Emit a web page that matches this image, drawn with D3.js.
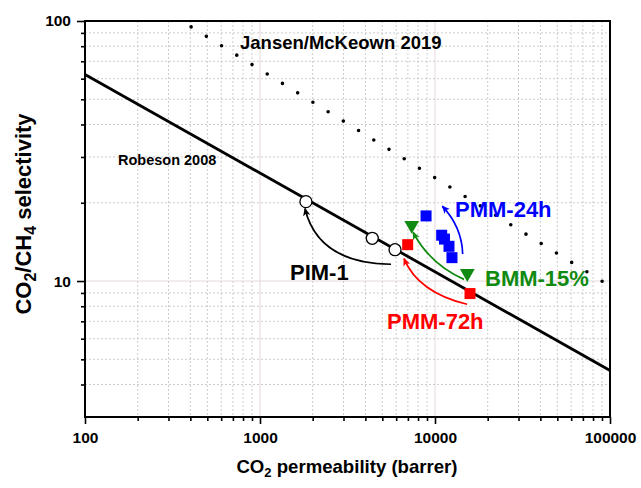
<!DOCTYPE html>
<html>
<head>
<meta charset="utf-8">
<script src="https://cdn.jsdelivr.net/npm/d3@7"></script>
<style>
  html, body { margin: 0; padding: 0; background: #fff; }
  text { font-family: "Liberation Sans", Arial, sans-serif; font-weight: bold; }
</style>
</head>
<body>
<svg id="chart" width="641" height="488"></svg>
<script>
// CO2 permeability (barrer) vs CO2/CH4 selectivity
const pim1 = [[1830, 20.2], [4380, 14.6], [5910, 13.2]];
const pmm72h = [[6980, 13.8], [15850, 8.95]];
const bmm15 = [[7360, 16.4], [15300, 10.7]];
const pmm24h = [[8890, 17.8], [10920, 15.0], [11330, 14.5], [12020, 13.6], [12500, 12.3]];

// upper bounds (endpoints)
const robeson2008 = [[100, 62.3], [100000, 4.53]];
const jansen2019 = [[404, 94.9], [91300, 9.93]];

// curved arrows: start, control, end
const arrowPim = [[5606, 11.6], [2144, 11.7], [1807, 19.0]];
const arrow72h = [[15240, 8.14], [7995, 9.05], [6650, 12.2]];
const arrow15 = [[14650, 10.15], [9360, 11.6], [7490, 15.4]];
const arrow24h = [[14390, 12.7], [14260, 16.1], [11010, 19.4]];

const xTicks = [100, 1000, 10000, 100000];
const yTicks = [10, 100];

const svg = d3.select("#chart");
const mLeft = 85, mRight = 610, mTop = 21, mBottom = 417;

const x = d3.scaleLog().domain([100, 100000]).range([mLeft, mRight]);
const y = d3.scaleLog().domain([3, 100]).range([mBottom, mTop]);

const blue = "#0000ff", red = "#ff0000", green = "#108a10";

// minor positions
const xMinor = [];
[100, 1000, 10000].forEach(d => { for (let k = 2; k <= 9; k++) xMinor.push(d * k); });
const yMinor = [];
[1, 10].forEach(d => { for (let k = 2; k <= 9; k++) { const v = d * k; if (v > 3 && v < 100) yMinor.push(v); } });

// gridlines
const grid = svg.append("g");
grid.selectAll(".gx").data(xMinor).join("line")
  .attr("x1", d => x(d)).attr("x2", d => x(d)).attr("y1", mTop).attr("y2", mBottom)
  .attr("stroke", "#cccccc").attr("stroke-width", 1).attr("stroke-dasharray", "2,2");
grid.selectAll(".gxm").data([1000, 10000]).join("line")
  .attr("x1", d => x(d)).attr("x2", d => x(d)).attr("y1", mTop).attr("y2", mBottom)
  .attr("stroke", "#e4d8d8").attr("stroke-width", 1);
grid.selectAll(".gy").data(yMinor).join("line")
  .attr("x1", mLeft).attr("x2", mRight).attr("y1", d => y(d)).attr("y2", d => y(d))
  .attr("stroke", "#cccccc").attr("stroke-width", 1).attr("stroke-dasharray", "2,2");
grid.selectAll(".gym").data([10]).join("line")
  .attr("x1", mLeft).attr("x2", mRight).attr("y1", d => y(d)).attr("y2", d => y(d))
  .attr("stroke", "#e4d8d8").attr("stroke-width", 1);

// axes
const xAxis = svg.append("g").attr("transform", `translate(0,${mBottom})`);
xAxis.call(d3.axisBottom(x).tickValues(xTicks).tickFormat(d3.format("d")).tickSize(7).tickPadding(8));
const xAxisMinor = svg.append("g").attr("transform", `translate(0,${mBottom})`);
xAxisMinor.call(d3.axisBottom(x).tickValues(xMinor).tickFormat("").tickSize(4));

const yAxis = svg.append("g").attr("transform", `translate(${mLeft},0)`);
yAxis.call(d3.axisLeft(y).tickValues(yTicks).tickFormat(d3.format("d")).tickSize(8).tickPadding(6));
const yAxisMinor = svg.append("g").attr("transform", `translate(${mLeft},0)`);
yAxisMinor.call(d3.axisLeft(y).tickValues(yMinor).tickFormat("").tickSize(4));

[xAxis, xAxisMinor, yAxis, yAxisMinor].forEach(g => {
  g.select(".domain").remove();
  g.selectAll(".tick line").attr("stroke", "#000").attr("stroke-width", 1.6);
  g.selectAll("text").attr("fill", "#000").style("font-size", "15.5px")
    .style("font-family", '"Liberation Sans", Arial, sans-serif').style("font-weight", "bold");
});

// frame
svg.append("rect").attr("x", mLeft).attr("y", mTop).attr("width", mRight - mLeft).attr("height", mBottom - mTop)
  .attr("fill", "none").attr("stroke", "#000").attr("stroke-width", 2);

const line = d3.line().x(d => x(d[0])).y(d => y(d[1]));

// Robeson 2008 upper bound
svg.append("path").datum(robeson2008).attr("d", line)
  .attr("fill", "none").attr("stroke", "#000").attr("stroke-width", 2.8);

// Jansen/McKeown 2019 upper bound (dotted)
svg.append("path").datum(jansen2019).attr("d", line)
  .attr("fill", "none").attr("stroke", "#000").attr("stroke-width", 3.6)
  .attr("stroke-linecap", "round").attr("stroke-dasharray", "0,17.9");

// arrow markers
const defs = svg.append("defs");
function marker(id, color) {
  defs.append("marker").attr("id", id).attr("viewBox", "0 0 10 10")
    .attr("refX", 9).attr("refY", 5).attr("markerWidth", 8).attr("markerHeight", 8)
    .attr("markerUnits", "userSpaceOnUse").attr("orient", "auto")
    .append("path").attr("d", "M0,0.5 L10,5 L0,9.5 L2.5,5 Z").attr("fill", color);
}
marker("mk-black", "#000"); marker("mk-red", red); marker("mk-green", green); marker("mk-blue", blue);

function curve(pts, color, id) {
  const p = pts.map(d => [x(d[0]), y(d[1])]);
  svg.append("path")
    .attr("d", `M${p[0][0]},${p[0][1]} Q${p[1][0]},${p[1][1]} ${p[2][0]},${p[2][1]}`)
    .attr("fill", "none").attr("stroke", color).attr("stroke-width", 1.7)
    .attr("marker-end", `url(#${id})`);
}
curve(arrowPim, "#000", "mk-black");
curve(arrow72h, red, "mk-red");
curve(arrow15, green, "mk-green");
curve(arrow24h, blue, "mk-blue");

// markers
svg.append("g").selectAll("circle").data(pim1).join("circle")
  .attr("cx", d => x(d[0])).attr("cy", d => y(d[1])).attr("r", 6)
  .attr("fill", "#fff").attr("stroke", "#000").attr("stroke-width", 1.3);

function squares(data, color) {
  svg.append("g").selectAll("rect").data(data).join("rect")
    .attr("x", d => x(d[0]) - 5.5).attr("y", d => y(d[1]) - 5.5)
    .attr("width", 11).attr("height", 11).attr("fill", color);
}
squares(pmm72h, red);
squares(pmm24h, blue);

svg.append("g").selectAll("path").data(bmm15).join("path")
  .attr("d", d3.symbol(d3.symbolTriangle, 95))
  .attr("transform", d => `translate(${x(d[0])},${y(d[1])}) rotate(180)`)
  .attr("fill", green);

// labels
function label(txt, px, py, color, size) {
  svg.append("text").attr("x", px).attr("y", py).attr("fill", color)
    .style("font-size", size + "px").text(txt);
}
label("Jansen/McKeown 2019", 240, 49, "#000", 18.5);
label("Robeson 2008", 118, 165, "#000", 14.5);
label("PIM-1", 290, 280, "#000", 22);
label("PMM-24h", 455, 217, blue, 22);
label("BMM-15%", 485, 286, green, 22);
label("PMM-72h", 387, 329, red, 22);

// axis titles
const xt = svg.append("text").attr("x", 347).attr("y", 473).attr("text-anchor", "middle")
  .style("font-size", "18.6px").attr("fill", "#000");
xt.append("tspan").text("CO");
xt.append("tspan").text("2").style("font-size", "13px").attr("dy", 4);
xt.append("tspan").text(" permeability (barrer)").attr("dy", -4);

const yt = svg.append("text").attr("transform", "translate(31,214) rotate(-90)")
  .attr("text-anchor", "middle").style("font-size", "22px").attr("fill", "#000");
yt.append("tspan").text("CO");
yt.append("tspan").text("2").style("font-size", "16px").attr("dy", 5);
yt.append("tspan").text("/CH").attr("dy", -5);
yt.append("tspan").text("4").style("font-size", "16px").attr("dy", 5);
yt.append("tspan").text(" selectivity").attr("dy", -5);
</script>
</body>
</html>
